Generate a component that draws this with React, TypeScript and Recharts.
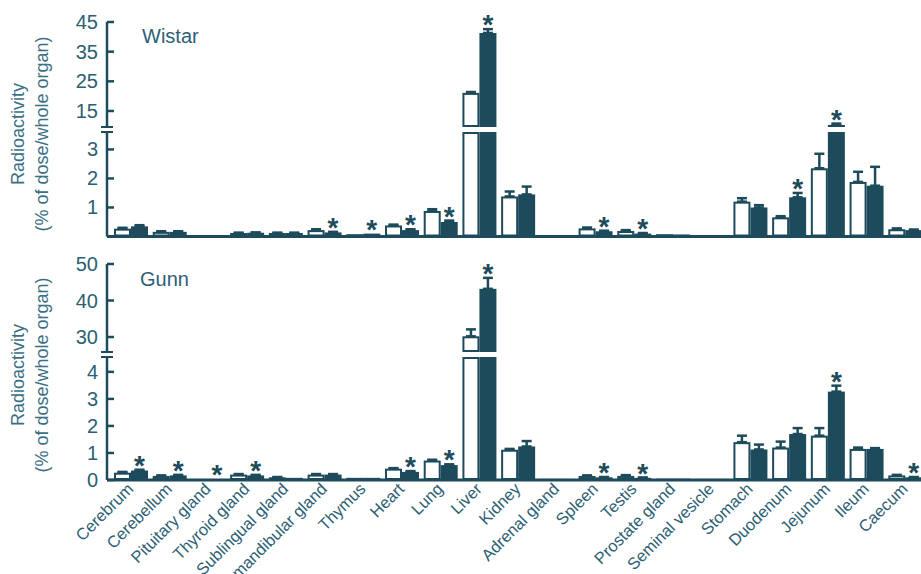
import React from 'react';
import { BarChart, Bar, XAxis, YAxis, ErrorBar, LabelList, ReferenceLine } from 'recharts';

const organs = [
  'Cerebrum', 'Cerebellum', 'Pituitary gland', 'Thyroid gland', 'Sublingual gland',
  'Submandibular gland', 'Thymus', 'Heart', 'Lung', 'Liver', 'Kidney', 'Adrenal gland',
  'Spleen', 'Testis', 'Prostate gland', 'Seminal vesicle', 'Stomach', 'Duodenum',
  'Jejunum', 'Ileum', 'Caecum',
];

// Wistar: % of dose per whole organ, mean and SEM
const wistarControl = [0.27, 0.16, 0.02, 0.12, 0.12, 0.22, 0.08, 0.38, 0.88, 21.1, 1.38, 0.05, 0.28, 0.19, 0.08, 0.05, 1.2, 0.66, 2.35, 1.88, 0.25];
const wistarControlSem = [0.03, 0.02, 0, 0.01, 0.01, 0.03, 0, 0.03, 0.06, 0.3, 0.17, 0, 0.03, 0.03, 0, 0, 0.12, 0.04, 0.5, 0.35, 0.03];
const wistarTreated = [0.35, 0.16, 0.02, 0.13, 0.12, 0.14, 0.1, 0.22, 0.5, 41.3, 1.45, 0.05, 0.18, 0.1, 0.07, 0.05, 1.0, 1.35, 10.3, 1.75, 0.22];
const wistarTreatedSem = [0.04, 0.02, 0, 0.01, 0.01, 0.02, 0, 0.03, 0.05, 1.3, 0.27, 0, 0.02, 0.02, 0, 0, 0.08, 0.15, 0.45, 0.65, 0.02];
const wistarSignificant = ['Submandibular gland', 'Thymus', 'Heart', 'Lung', 'Liver', 'Spleen', 'Testis', 'Duodenum', 'Jejunum'];

// Gunn: % of dose per whole organ, mean and SEM
const gunnControl = [0.27, 0.15, 0.02, 0.2, 0.1, 0.2, 0.08, 0.42, 0.72, 30.2, 1.12, 0.04, 0.15, 0.15, 0.05, 0.04, 1.4, 1.2, 1.64, 1.15, 0.17];
const gunnControlSem = [0.03, 0.02, 0, 0.02, 0.01, 0.02, 0, 0.02, 0.03, 1.9, 0.03, 0, 0.02, 0.03, 0, 0, 0.24, 0.22, 0.28, 0.05, 0.02];
const gunnTreated = [0.35, 0.17, 0.02, 0.17, 0.08, 0.2, 0.08, 0.3, 0.55, 43.2, 1.24, 0.04, 0.1, 0.08, 0.05, 0.04, 1.13, 1.7, 3.27, 1.15, 0.1];
const gunnTreatedSem = [0.03, 0.02, 0, 0.02, 0, 0.02, 0, 0.03, 0.03, 3.0, 0.2, 0, 0.01, 0.01, 0, 0, 0.18, 0.22, 0.22, 0.03, 0.01];
const gunnSignificant = ['Cerebrum', 'Cerebellum', 'Pituitary gland', 'Thyroid gland', 'Heart', 'Lung', 'Liver', 'Spleen', 'Testis', 'Jejunum', 'Caecum'];

const wistarUpperTicks = [15, 25, 35, 45];
const wistarLowerTicks = [1, 2, 3];
const gunnUpperTicks = [30, 40, 50];
const gunnLowerTicks = [0, 1, 2, 3, 4];

const DARK = '#1d4b5b';
const TEXT = '#2c6074';
const LABEL = '#3b6f85';
const FONT = '"Liberation Sans", Arial, Helvetica, sans-serif';
const CHART_W = 925;
const AXIS_W = 107;

type Row = {
  name: string;
  ctrl: number;
  trt: number;
  pad: number;
  ctrlErr: number[] | null;
  trtErr: number[] | null;
  star: string;
};

// one row per organ for a single segment of a broken axis
function buildRows(
  domain: [number, number],
  ctrl: number[], ctrlSem: number[],
  trt: number[], trtSem: number[],
  sig: string[],
): Row[] {
  const [lo, hi] = domain;
  const inside = (v: number) => v >= lo && v <= hi;
  return organs.map((name, i) => ({
    name,
    ctrl: ctrl[i],
    trt: trt[i],
    pad: trtSem[i],
    ctrlErr: inside(ctrl[i]) && ctrlSem[i] > 0 ? [0, ctrlSem[i]] : null,
    trtErr: inside(trt[i]) && trtSem[i] > 0 ? [0, trtSem[i]] : null,
    star: sig.includes(name) && inside(trt[i] + trtSem[i]) ? '*' : '',
  }));
}

// bar clipped to its segment, outline kept inside the rect
const ClampedBar = (props: any) => {
  const { x, y, width, height, fill, color, lo, hi } = props;
  if (x == null || y == null) return <g />;
  let y0 = Math.min(y, y + height);
  let y1 = Math.max(y, y + height);
  y0 = Math.max(y0, lo);
  y1 = Math.min(y1, hi);
  if (y1 - y0 <= 0) return <g />;
  const sw = 2;
  if (y1 - y0 <= sw * 2) {
    return <rect x={x} y={y0} width={width} height={y1 - y0} fill={color} />;
  }
  return (
    <rect
      x={x + sw / 2}
      y={y0 + sw / 2}
      width={width - sw}
      height={y1 - y0 - sw}
      fill={fill}
      stroke={color}
      strokeWidth={sw}
    />
  );
};

const ValueTick = (props: any) => {
  const { x, y, payload, breakValue } = props;
  const ax = x + 9;
  if (payload.value === breakValue) {
    return <line x1={ax - 6} x2={ax + 6} y1={y} y2={y} stroke={DARK} strokeWidth={2} />;
  }
  return (
    <g>
      <line x1={ax} x2={ax + 7} y1={y} y2={y} stroke={DARK} strokeWidth={2.5} />
      <text x={x} y={y} dy={7} textAnchor="end" fontSize={20} fill={TEXT} fontFamily={FONT}>
        {payload.value}
      </text>
    </g>
  );
};

const OrganTick = (props: any) => {
  const { x, y, payload } = props;
  const tx = x + 3;
  const ty = y + 10;
  return (
    <text
      x={tx}
      y={ty}
      transform={`rotate(-45, ${tx}, ${ty})`}
      textAnchor="end"
      fontSize={16.5}
      fill={TEXT}
      fontFamily={FONT}
    >
      {payload.value}
    </text>
  );
};

const Star = (props: any) => {
  const vb = props.viewBox || props;
  const x = props.x ?? vb.x;
  const y = props.y ?? vb.y;
  const width = props.width ?? vb.width;
  if (!props.value) return null;
  return (
    <text x={x + width / 2} y={y + 5} textAnchor="middle" fontSize={28} fontWeight="bold" fill={DARK} fontFamily={FONT}>
      {props.value}
    </text>
  );
};

interface SegmentProps {
  rows: Row[];
  domain: [number, number];
  ticks: number[];
  breakEdge: 'top' | 'bottom';
  top: number;
  marginTop: number;
  plotHeight: number;
  marginBottom: number;
  labels?: boolean;
}

function Segment({ rows, domain, ticks, breakEdge, top, marginTop, plotHeight, marginBottom, labels }: SegmentProps) {
  const breakValue = breakEdge === 'bottom' ? domain[0] : domain[1];
  const lo = marginTop;
  const hi = marginTop + plotHeight;
  const height = marginTop + plotHeight + marginBottom;
  return (
    <div style={{ position: 'absolute', left: 0, top }}>
      <BarChart
        width={CHART_W}
        height={height}
        data={rows}
        margin={{ top: marginTop, right: 0, bottom: labels ? 0 : marginBottom, left: 0 }}
        barCategoryGap={2}
        barGap={0}
      >
        <XAxis
          dataKey="name"
          hide={!labels}
          interval={0}
          height={labels ? marginBottom : 0}
          padding={{ left: 5, right: 0 }}
          axisLine={{ stroke: DARK, strokeWidth: 3 }}
          tickLine={false}
          tickSize={0}
          tickMargin={0}
          tick={<OrganTick />}
        />
        <YAxis
          type="number"
          domain={domain}
          allowDataOverflow
          ticks={[...ticks, breakValue]}
          interval={0}
          width={AXIS_W}
          axisLine={{ stroke: DARK, strokeWidth: 2.5 }}
          tickLine={false}
          tickSize={0}
          tickMargin={9}
          tick={<ValueTick breakValue={breakValue} />}
        />
        {!labels && breakEdge === 'top' && <ReferenceLine y={0} stroke={DARK} strokeWidth={3} />}
        <Bar
          dataKey="ctrl"
          stackId="c"
          fill="#ffffff"
          isAnimationActive={false}
          shape={(p: any) => <ClampedBar {...p} fill="#ffffff" color={DARK} lo={lo} hi={hi} />}
        >
          <ErrorBar dataKey="ctrlErr" direction="y" width={5} stroke={DARK} strokeWidth={2.5} isAnimationActive={false} />
        </Bar>
        <Bar
          dataKey="trt"
          stackId="t"
          fill={DARK}
          isAnimationActive={false}
          shape={(p: any) => <ClampedBar {...p} fill={DARK} color={DARK} lo={lo} hi={hi} />}
        >
          <ErrorBar dataKey="trtErr" direction="y" width={5} stroke={DARK} strokeWidth={2.5} isAnimationActive={false} />
        </Bar>
        <Bar dataKey="pad" stackId="t" fill="none" isAnimationActive={false} shape={() => <g />}>
          <LabelList dataKey="star" content={<Star />} />
        </Bar>
      </BarChart>
    </div>
  );
}

const wistarUpperDomain: [number, number] = [9.6, 45];
const wistarLowerDomain: [number, number] = [0, 3.6];
const gunnUpperDomain: [number, number] = [25.9, 50];
const gunnLowerDomain: [number, number] = [0, 4.55];

export default function App() {
  const wU = buildRows(wistarUpperDomain, wistarControl, wistarControlSem, wistarTreated, wistarTreatedSem, wistarSignificant);
  const wL = buildRows(wistarLowerDomain, wistarControl, wistarControlSem, wistarTreated, wistarTreatedSem, wistarSignificant);
  const gU = buildRows(gunnUpperDomain, gunnControl, gunnControlSem, gunnTreated, gunnTreatedSem, gunnSignificant);
  const gL = buildRows(gunnLowerDomain, gunnControl, gunnControlSem, gunnTreated, gunnTreatedSem, gunnSignificant);

  return (
    <div style={{ position: 'absolute', left: 0, top: 0, width: 921, height: 574, overflow: 'hidden', background: '#fff', fontFamily: FONT }}>
      <svg width={921} height={574} style={{ position: 'absolute', left: 0, top: 0 }}>
        <text x={142} y={43} fontSize={20} fill={TEXT} fontFamily={FONT}>Wistar</text>
        <text x={140} y={286} fontSize={20} fill={TEXT} fontFamily={FONT}>Gunn</text>
        {[134, 375].map((cy) => (
          <g key={cy}>
            <text x={24} y={cy} transform={`rotate(-90, 24, ${cy})`} textAnchor="middle" fontSize={18} fill={LABEL} fontFamily={FONT}>
              Radioactivity
            </text>
            <text x={48} y={cy} transform={`rotate(-90, 48, ${cy})`} textAnchor="middle" fontSize={18} fill={LABEL} fontFamily={FONT}>
              (% of dose/whole organ)
            </text>
          </g>
        ))}
      </svg>
      <Segment rows={wU} domain={wistarUpperDomain} ticks={wistarUpperTicks} breakEdge="bottom" top={0} marginTop={22} plotHeight={105} marginBottom={14} />
      <Segment rows={wL} domain={wistarLowerDomain} ticks={wistarLowerTicks} breakEdge="top" top={129} marginTop={3} plotHeight={104.5} marginBottom={14} />
      <Segment rows={gU} domain={gunnUpperDomain} ticks={gunnUpperTicks} breakEdge="bottom" top={240} marginTop={24} plotHeight={88} marginBottom={14} />
      <Segment rows={gL} domain={gunnLowerDomain} ticks={gunnLowerTicks} breakEdge="top" top={354} marginTop={3} plotHeight={123} marginBottom={94} labels />
    </div>
  );
}
